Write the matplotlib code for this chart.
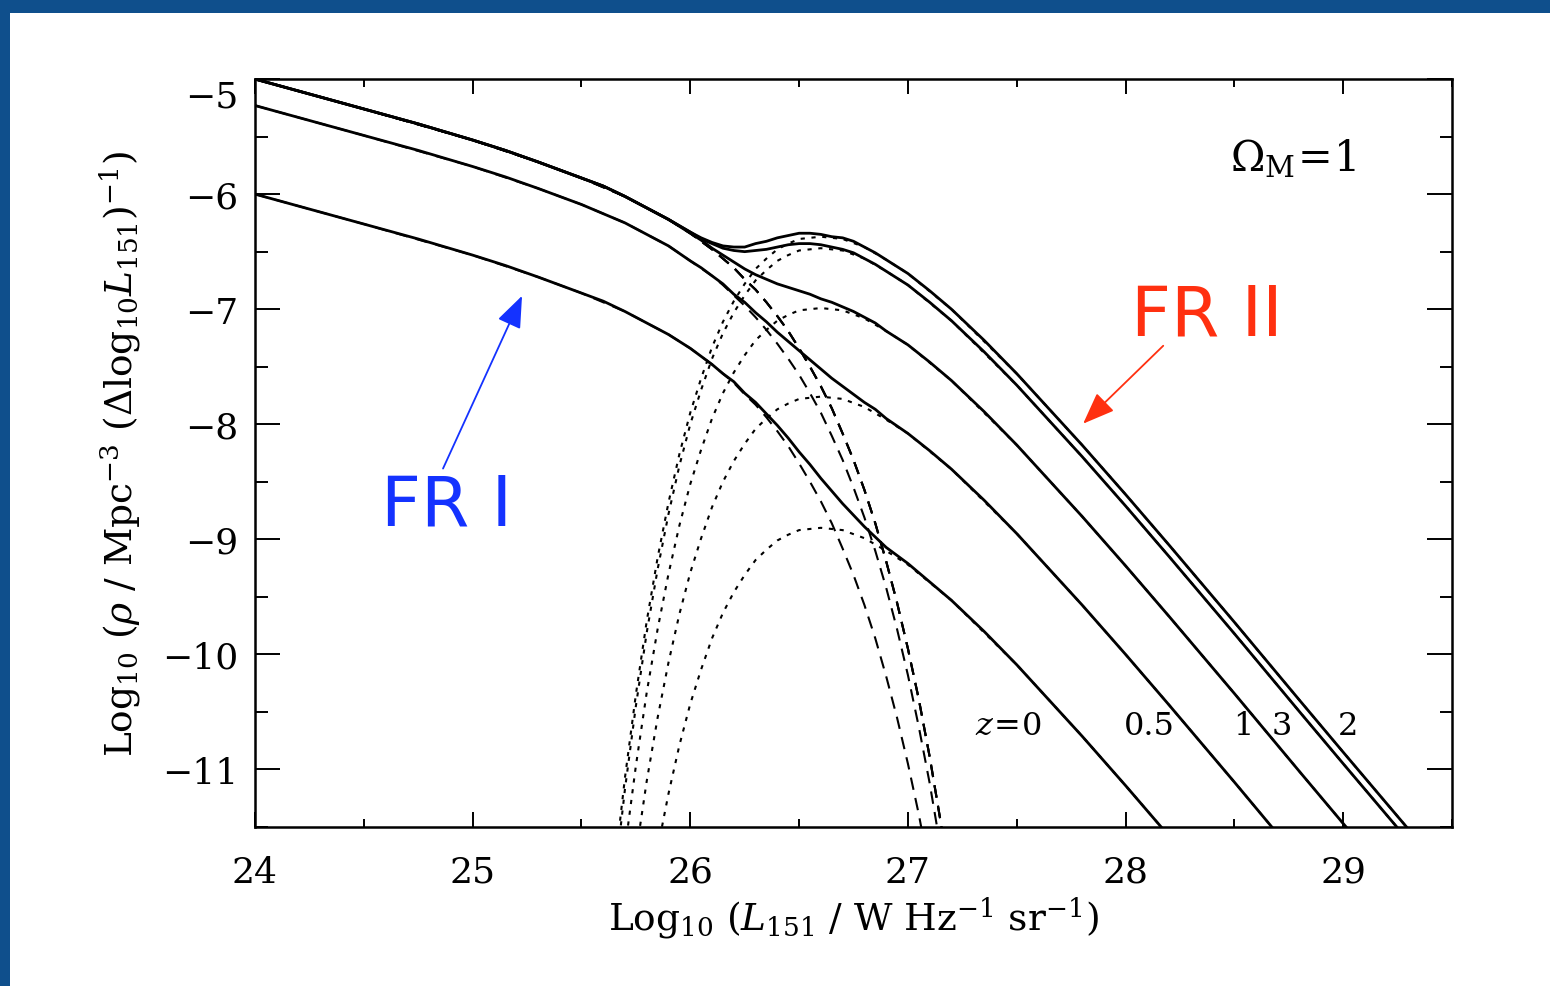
import matplotlib
matplotlib.use("Agg")
import matplotlib.pyplot as plt
from matplotlib.patches import Rectangle
from matplotlib.ticker import MultipleLocator

plt.rcParams['font.family'] = ['DejaVu Serif']
plt.rcParams['mathtext.fontset'] = 'dejavuserif'

# log10 L grid for the low-luminosity (FR I) components
x_fr1 = [24.0, 24.5, 25.0, 25.3, 25.5, 25.7, 25.9, 26.0, 26.1, 26.15, 26.2, 26.25, 26.3, 26.35,
         26.4, 26.45, 26.5, 26.55, 26.6, 26.65, 26.7, 26.75, 26.8, 26.85, 26.9, 26.95, 27.0,
         27.05, 27.1, 27.15, 27.2]
fr1_zhi = [-5.00, -5.26, -5.53, -5.72, -5.86, -6.02, -6.22, -6.34, -6.48, -6.56, -6.64, -6.74, -6.83, -6.94,
           -7.06, -7.19, -7.34, -7.50, -7.67, -7.86, -8.08, -8.31, -8.57, -8.86, -9.19, -9.55, -9.95,
           -10.39, -10.89, -11.45, -12.07]
fr1_z05 = [-5.23, -5.49, -5.76, -5.95, -6.09, -6.25, -6.45, -6.58, -6.71, -6.79, -6.88, -6.97, -7.07, -7.18,
           -7.30, -7.43, -7.57, -7.73, -7.90, -8.10, -8.31, -8.55, -8.81, -9.10, -9.42, -9.78, -10.18,
           -10.63, -11.12, -11.68, -12.30]
fr1_z0 = [-6.00, -6.26, -6.53, -6.72, -6.86, -7.02, -7.22, -7.34, -7.48, -7.56, -7.64, -7.74, -7.83, -7.94,
          -8.06, -8.19, -8.34, -8.50, -8.67, -8.86, -9.08, -9.31, -9.57, -9.86, -10.19, -10.55, -10.95,
          -11.39, -11.89, -12.45, -13.07]

# high-luminosity (FR II) components
x_fr2 = [25.6, 25.65, 25.7, 25.75, 25.8, 25.85, 25.9, 25.95, 26.0, 26.05, 26.1, 26.15, 26.2, 26.25,
         26.3, 26.35, 26.4, 26.45, 26.5, 26.6, 26.7, 26.8, 26.9, 27.0, 27.2, 27.5, 27.8, 28.0,
         28.2, 28.5, 28.8, 29.0, 29.3]
fr2_z2 = [-12.85, -11.90, -11.07, -10.35, -9.71, -9.16, -8.68, -8.26, -7.90, -7.60, -7.33, -7.11, -6.93, -6.78,
          -6.65, -6.56, -6.48, -6.43, -6.39, -6.37, -6.39, -6.46, -6.57, -6.69, -7.00, -7.56, -8.18, -8.61,
          -9.05, -9.72, -10.40, -10.85, -11.52]
fr2_z3 = [-12.95, -12.00, -11.17, -10.45, -9.81, -9.26, -8.78, -8.36, -8.00, -7.70, -7.43, -7.21, -7.03, -6.88,
          -6.75, -6.66, -6.58, -6.53, -6.49, -6.47, -6.49, -6.56, -6.67, -6.79, -7.10, -7.66, -8.28, -8.71,
          -9.15, -9.82, -10.50, -10.95, -11.62]
fr2_z1 = [-13.47, -12.52, -11.69, -10.97, -10.33, -9.78, -9.30, -8.88, -8.52, -8.22, -7.95, -7.73, -7.55, -7.40,
          -7.27, -7.18, -7.10, -7.05, -7.01, -6.99, -7.01, -7.08, -7.19, -7.31, -7.62, -8.18, -8.80, -9.23,
          -9.67, -10.34, -11.02, -11.47, -12.14]
fr2_z05 = [-14.24, -13.29, -12.46, -11.74, -11.10, -10.55, -10.07, -9.65, -9.29, -8.99, -8.72, -8.50, -8.32, -8.17,
           -8.04, -7.95, -7.87, -7.82, -7.78, -7.76, -7.78, -7.85, -7.96, -8.08, -8.39, -8.95, -9.57, -10.00,
           -10.44, -11.11, -11.79, -12.24, -12.91]
fr2_z0 = [-15.38, -14.43, -13.60, -12.88, -12.24, -11.69, -11.21, -10.79, -10.43, -10.13, -9.86, -9.64, -9.46, -9.31,
          -9.18, -9.09, -9.01, -8.96, -8.92, -8.90, -8.92, -8.99, -9.10, -9.22, -9.53, -10.09, -10.71, -11.14,
          -11.58, -12.25, -12.93, -13.38, -14.05]

# total luminosity function at each redshift
x_tot = [24.0, 24.25, 24.5, 24.75, 25.0, 25.15, 25.3, 25.5, 25.6, 25.7, 25.8, 25.9,
         26.0, 26.05, 26.1, 26.15, 26.2, 26.25, 26.3, 26.35, 26.4, 26.45, 26.5, 26.55, 26.6, 26.65,
         26.7, 26.75, 26.8, 26.85, 26.9,
         27.0, 27.1, 27.2, 27.35, 27.5, 27.65, 27.8, 28.0, 28.2, 28.5, 28.8, 29.0, 29.3]
tot_z2 = [-5.00, -5.13, -5.26, -5.39, -5.53, -5.62, -5.72, -5.86, -5.93, -6.02, -6.12, -6.22,
          -6.33, -6.38, -6.42, -6.45, -6.46, -6.46, -6.43, -6.41, -6.38, -6.36, -6.34, -6.34, -6.35, -6.37,
          -6.38, -6.41, -6.46, -6.51, -6.57,
          -6.69, -6.84, -7.00, -7.27, -7.56, -7.87, -8.18, -8.61, -9.05, -9.72, -10.40, -10.85, -11.52]
tot_z3 = [-5.00, -5.13, -5.26, -5.39, -5.53, -5.62, -5.72, -5.86, -5.93, -6.02, -6.12, -6.22,
          -6.33, -6.39, -6.43, -6.47, -6.49, -6.50, -6.49, -6.48, -6.46, -6.44, -6.43, -6.43, -6.44, -6.46,
          -6.48, -6.51, -6.56, -6.61, -6.67,
          -6.79, -6.94, -7.10, -7.37, -7.66, -7.97, -8.28, -8.71, -9.15, -9.82, -10.50, -10.95, -11.62]
tot_z1 = [-5.00, -5.13, -5.26, -5.39, -5.53, -5.62, -5.72, -5.86, -5.93, -6.02, -6.12, -6.22,
          -6.34, -6.40, -6.47, -6.53, -6.59, -6.65, -6.70, -6.74, -6.78, -6.81, -6.84, -6.87, -6.91, -6.94,
          -6.98, -7.02, -7.07, -7.12, -7.19,
          -7.31, -7.46, -7.62, -7.89, -8.18, -8.49, -8.80, -9.23, -9.67, -10.34, -11.02, -11.47, -12.14]
tot_z05 = [-5.23, -5.36, -5.49, -5.62, -5.76, -5.85, -5.95, -6.09, -6.17, -6.25, -6.35, -6.45,
           -6.58, -6.64, -6.71, -6.78, -6.87, -6.94, -7.03, -7.11, -7.20, -7.28, -7.36, -7.44, -7.52, -7.60,
           -7.67, -7.74, -7.81, -7.87, -7.95,
           -8.08, -8.23, -8.39, -8.66, -8.95, -9.26, -9.57, -10.00, -10.44, -11.11, -11.79, -12.24, -12.91]
tot_z0 = [-6.00, -6.13, -6.26, -6.39, -6.53, -6.62, -6.72, -6.86, -6.93, -7.02, -7.12, -7.22,
          -7.34, -7.41, -7.48, -7.56, -7.63, -7.73, -7.81, -7.91, -8.01, -8.12, -8.24, -8.35, -8.47, -8.58,
          -8.69, -8.79, -8.89, -8.98, -9.07,
          -9.21, -9.37, -9.53, -9.80, -10.09, -10.40, -10.71, -11.14, -11.58, -12.25, -12.93, -13.38, -14.05]

fr1_curves = [fr1_z0, fr1_z05, fr1_zhi, fr1_zhi, fr1_zhi]
fr2_curves = [fr2_z0, fr2_z05, fr2_z1, fr2_z2, fr2_z3]
tot_curves = [tot_z0, tot_z05, tot_z1, tot_z2, tot_z3]

z_labels = [r'$z\!=\!0$', '0.5', '1', '3', '2']
z_label_x = [27.46, 28.11, 28.54, 28.72, 29.02]
z_label_y = -10.62

x_ticks = [24, 25, 26, 27, 28, 29]
y_ticks = [-5, -6, -7, -8, -9, -10, -11]

fig = plt.figure(figsize=(15.5, 9.87), dpi=100)
fig.patch.set_facecolor('white')
# blue slide border along the top and left
fig.add_artist(Rectangle((0, 1 - 14 / 987), 1, 14 / 987, transform=fig.transFigure,
                         facecolor='#0f4f8c', edgecolor='none', zorder=0))
fig.add_artist(Rectangle((0, 0), 10 / 1550, 1, transform=fig.transFigure,
                         facecolor='#0f4f8c', edgecolor='none', zorder=0))

ax = fig.add_axes([0.1645, 0.1611, 0.7723, 0.7578])

for y in fr1_curves:
    ax.plot(x_fr1, y, color='black', lw=1.5, ls=(0, (6, 4)), zorder=2)
for y in fr2_curves:
    ax.plot(x_fr2, y, color='black', lw=1.5, ls=(0, (2, 3.2)), zorder=2)
for y in tot_curves:
    ax.plot(x_tot, y, color='black', lw=2.0, zorder=3)

ax.set_xlim(24, 29.5)
ax.set_ylim(-11.5, -5)

ax.set_xticks(x_ticks)
ax.set_xticklabels([str(t) for t in x_ticks])
ax.set_yticks(y_ticks)
ax.set_yticklabels(['\u2212' + str(-t) for t in y_ticks])
ax.xaxis.set_minor_locator(MultipleLocator(0.5))
ax.yaxis.set_minor_locator(MultipleLocator(0.5))
ax.tick_params(axis='both', which='both', direction='in', top=True, right=True,
               width=1.4, colors='black', labelsize=26)
ax.tick_params(axis='x', which='major', length=11, pad=20)
ax.tick_params(axis='x', which='minor', length=5.5)
ax.tick_params(axis='y', which='major', length=18, pad=12)
ax.tick_params(axis='y', which='minor', length=9)
ax.get_yticklabels()[0].set_va('top')
for s in ax.spines.values():
    s.set_linewidth(1.8)

ax.set_xlabel(r'Log$_{10}$ ($L_{151}$ / W Hz$^{-1}$ sr$^{-1}$)', fontsize=27, labelpad=4)
ax.set_ylabel(r'Log$_{10}$ ($\rho$ / Mpc$^{-3}$ ($\Delta$log$_{10}$$L_{151}$)$^{-1}$)',
              fontsize=27, labelpad=14)

ax.text(28.77, -5.69, r'$\Omega_{\rm M}\!=\!1$', fontsize=30, ha='center', va='center')
for lab, lx in zip(z_labels, z_label_x):
    ax.text(lx, z_label_y, lab, fontsize=23, ha='center', va='center')

ax.text(24.88, -8.70, 'FR I', family='DejaVu Sans', color='#1432ff', fontsize=50,
        ha='center', va='center')
ax.text(28.375, -7.05, 'FR II', family='DejaVu Sans', color='#ff3010', fontsize=50,
        ha='center', va='center')
ax.annotate('', xy=(25.227, -6.884), xytext=(24.864, -8.385),
            arrowprops=dict(arrowstyle='-|>,head_length=0.9,head_width=0.35',
                            color='#1432ff', lw=1.3, mutation_scale=22, shrinkA=0, shrinkB=0))
ax.annotate('', xy=(27.805, -7.995), xytext=(28.173, -7.318),
            arrowprops=dict(arrowstyle='-|>,head_length=0.9,head_width=0.35',
                            color='#ff3010', lw=1.3, mutation_scale=22, shrinkA=0, shrinkB=0))

fig.savefig('out.png', dpi=100)
